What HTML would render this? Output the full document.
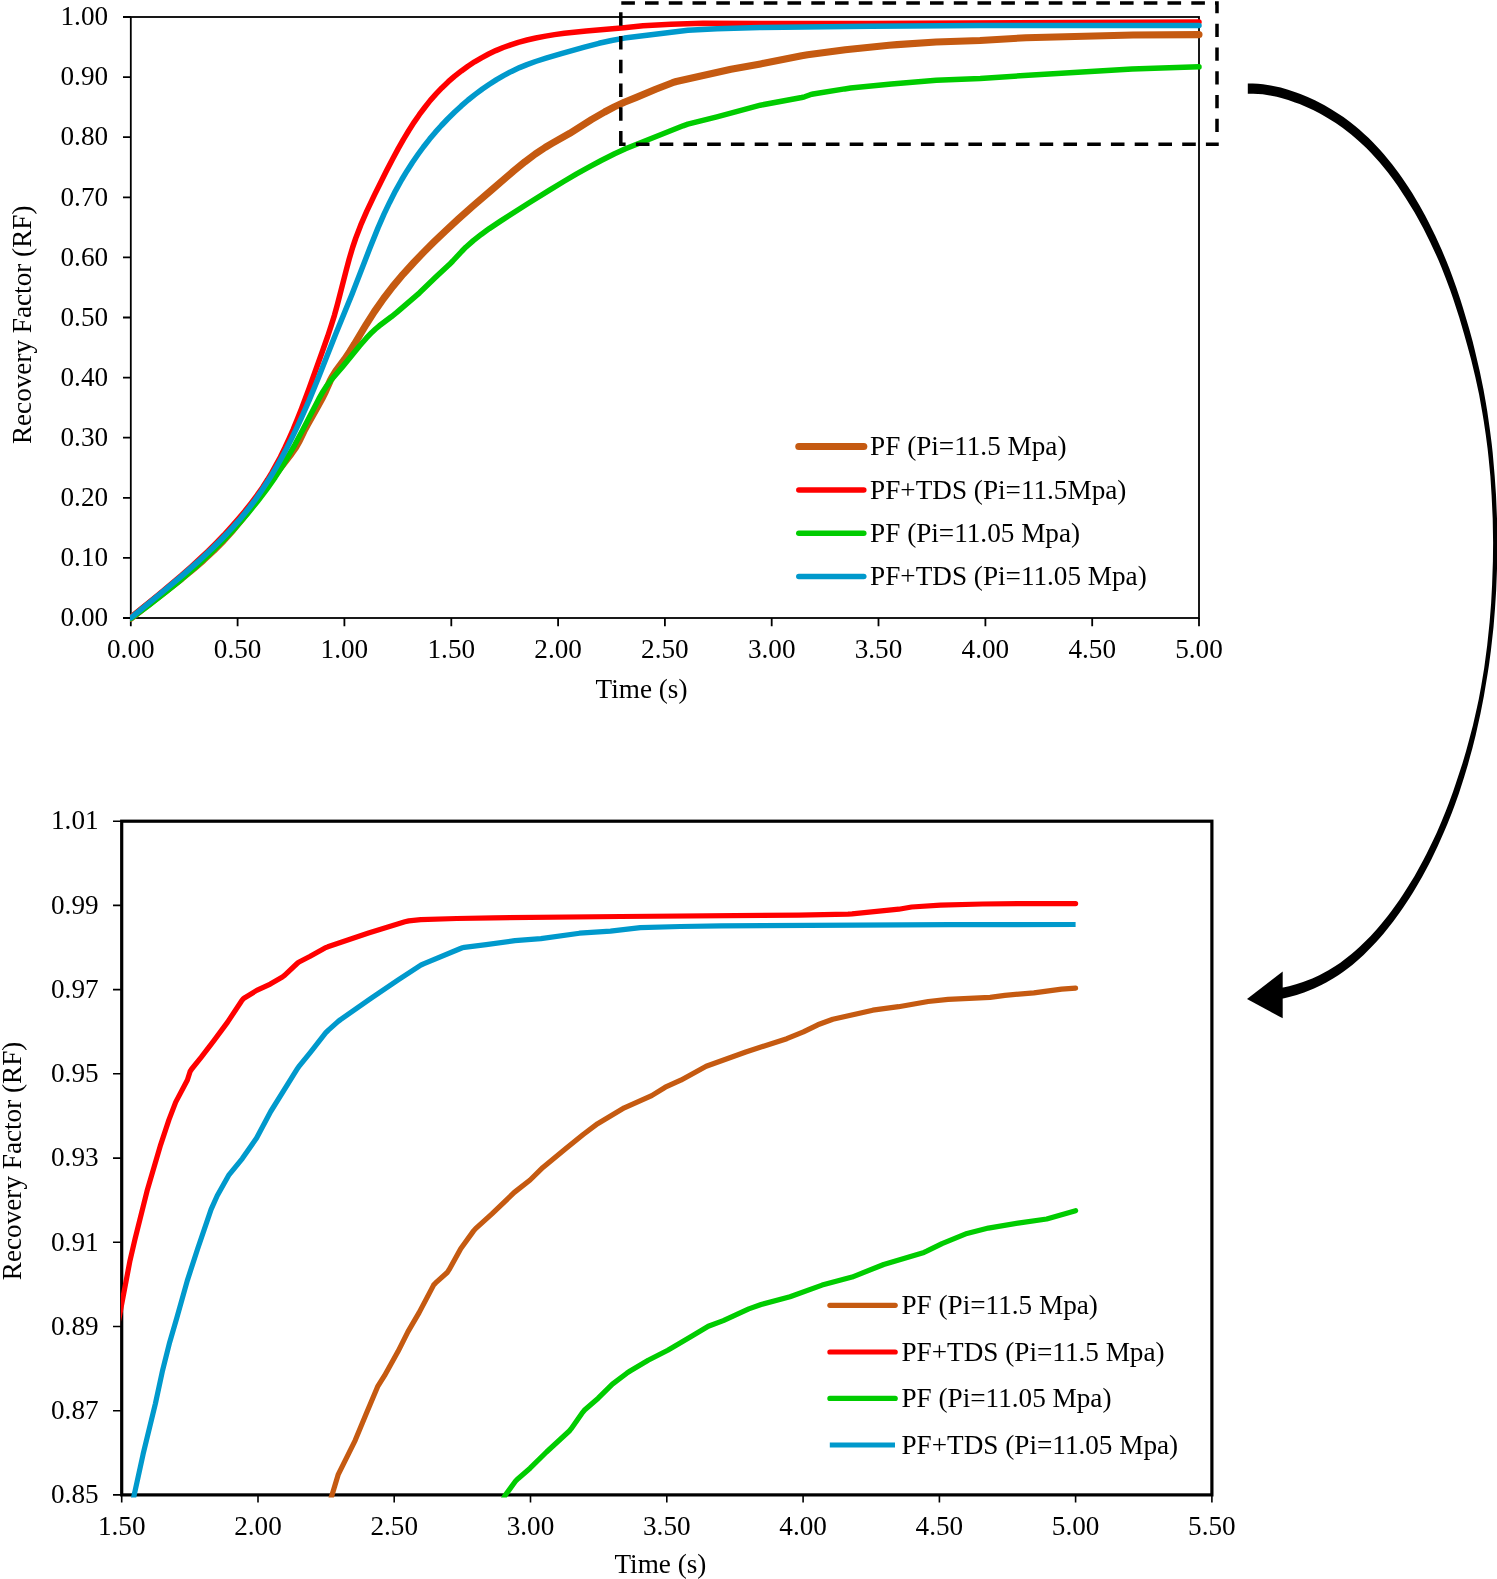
<!DOCTYPE html><html><head><meta charset="utf-8"><style>html,body{margin:0;padding:0;background:#fff;overflow:hidden;}svg{display:block;will-change:transform;}text{font-family:"Liberation Serif",serif;font-size:27.2px;fill:#000;}</style></head><body>
<svg width="1497" height="1579" viewBox="0 0 1497 1579">
<defs><clipPath id="ct"><rect x="129.9" y="0" width="1080" height="640"/></clipPath><clipPath id="cb"><rect x="120.9" y="819.6" width="1092.6" height="677.9"/></clipPath></defs>
<rect x="130.8" y="17.0" width="1068.2" height="601.0" fill="none" stroke="#000" stroke-width="1.8"/>
<path d="M123,17.0H130.8M130.8,618.0V626.2M123,77.1H130.8M237.6,618.0V626.2M123,137.2H130.8M344.4,618.0V626.2M123,197.3H130.8M451.3,618.0V626.2M123,257.4H130.8M558.1,618.0V626.2M123,317.5H130.8M664.9,618.0V626.2M123,377.6H130.8M771.7,618.0V626.2M123,437.7H130.8M878.5,618.0V626.2M123,497.8H130.8M985.4,618.0V626.2M123,557.9H130.8M1092.2,618.0V626.2M123,618.0H130.8M1199.0,618.0V626.2" stroke="#000" stroke-width="1.8" fill="none"/>
<text x="108.1" y="25.2" text-anchor="end">1.00</text>
<text x="130.8" y="657.9" text-anchor="middle">0.00</text>
<text x="108.1" y="85.3" text-anchor="end">0.90</text>
<text x="237.6" y="657.9" text-anchor="middle">0.50</text>
<text x="108.1" y="145.4" text-anchor="end">0.80</text>
<text x="344.4" y="657.9" text-anchor="middle">1.00</text>
<text x="108.1" y="205.5" text-anchor="end">0.70</text>
<text x="451.3" y="657.9" text-anchor="middle">1.50</text>
<text x="108.1" y="265.6" text-anchor="end">0.60</text>
<text x="558.1" y="657.9" text-anchor="middle">2.00</text>
<text x="108.1" y="325.7" text-anchor="end">0.50</text>
<text x="664.9" y="657.9" text-anchor="middle">2.50</text>
<text x="108.1" y="385.8" text-anchor="end">0.40</text>
<text x="771.7" y="657.9" text-anchor="middle">3.00</text>
<text x="108.1" y="445.9" text-anchor="end">0.30</text>
<text x="878.5" y="657.9" text-anchor="middle">3.50</text>
<text x="108.1" y="506.0" text-anchor="end">0.20</text>
<text x="985.4" y="657.9" text-anchor="middle">4.00</text>
<text x="108.1" y="566.1" text-anchor="end">0.10</text>
<text x="1092.2" y="657.9" text-anchor="middle">4.50</text>
<text x="108.1" y="626.2" text-anchor="end">0.00</text>
<text x="1199.0" y="657.9" text-anchor="middle">5.00</text>
<text x="641.5" y="698.2" text-anchor="middle">Time (s)</text>
<text transform="translate(31.2,324.8) rotate(-90)" text-anchor="middle">Recovery Factor (RF)</text>
<g clip-path="url(#ct)">
<polyline points="130.8,618.2 144.1,607.6 182.0,578.1 193.6,568.5 203.4,560.0 213.6,550.5 223.5,540.5 232.8,530.1 243.0,517.7 255.1,501.8 278.9,469.6 291.1,453.8 295.7,447.2 299.2,441.1 303.9,431.2 307.2,425.0 318.0,405.8 321.8,398.8 325.4,391.6 330.2,380.7 332.1,377.1 335.8,371.2 344.7,359.1 349.7,351.6 354.5,344.0 366.3,324.3 374.4,311.6 383.6,298.5 392.7,286.6 403.0,274.3 413.8,262.5 423.5,252.4 434.1,241.8 445.7,230.7 458.2,219.2 473.1,205.9 491.3,190.2 513.3,171.3 524.9,161.8 535.3,154.0 545.3,147.4 552.2,143.3 569.6,133.4 591.6,119.5 604.6,112.0 614.3,106.9 624.3,102.2 636.4,97.4 655.7,89.3 672.5,82.7 676.3,81.5 731.0,69.2 760.5,63.9 801.7,55.7 807.6,54.7 845.3,49.7 889.1,45.2 897.1,44.6 936.0,42.0 980.0,40.5 1026.0,37.7 1133.0,35.0 1199.0,34.6" fill="none" stroke="#C55A11" stroke-width="7.1" stroke-linejoin="round" stroke-linecap="round"/>
<polyline points="130.8,617.3 159.5,593.9 180.9,575.8 190.6,567.2 199.5,559.1 208.2,550.9 216.0,543.1 223.7,535.3 231.1,527.2 238.4,518.9 244.8,511.3 251.0,503.4 257.0,495.4 262.7,487.2 267.6,479.6 271.7,472.8 276.1,464.9 280.4,457.0 284.8,448.0 289.0,438.9 293.0,429.8 297.2,419.6 301.6,408.5 309.0,388.8 322.8,350.2 327.8,336.0 331.5,324.6 334.5,315.1 337.4,304.5 346.1,270.6 349.2,259.0 352.6,247.5 355.8,238.0 360.8,224.9 366.8,211.2 374.5,194.9 386.5,170.7 392.5,159.2 398.2,148.6 403.6,139.1 408.8,130.5 414.2,122.1 419.3,114.7 424.7,107.5 430.3,100.4 436.3,93.7 441.8,87.9 448.3,81.7 454.4,76.4 461.4,70.9 467.9,66.2 474.6,61.8 481.5,57.8 488.6,54.0 495.8,50.6 503.2,47.5 510.7,44.8 518.3,42.3 527.0,40.0 535.8,38.0 545.6,36.1 554.5,34.6 564.4,33.2 586.3,30.9 624.1,27.7 643.0,25.8 671.0,24.2 703.0,23.2 761.0,23.6 869.0,23.4 1199.0,22.0" fill="none" stroke="#FF0000" stroke-width="5.5" stroke-linejoin="round" stroke-linecap="round"/>
<polyline points="130.8,618.6 148.5,605.6 165.1,592.7 180.6,580.0 195.7,566.9 209.6,554.0 223.1,540.6 235.5,527.5 247.3,513.9 257.4,501.5 266.5,489.6 275.1,477.3 282.7,465.5 288.9,455.2 294.8,444.8 302.8,429.8 318.9,398.7 322.9,391.7 326.1,386.7 330.9,380.3 342.6,366.6 359.7,345.7 366.3,338.2 371.8,332.4 375.5,329.0 379.3,325.8 391.3,316.8 396.8,312.4 419.5,292.8 436.1,276.8 449.3,264.6 452.8,261.0 461.6,251.5 465.8,247.2 473.3,240.6 481.2,234.4 489.3,228.6 500.1,221.4 528.8,203.0 549.1,190.3 563.7,181.5 576.6,173.9 588.8,167.1 601.2,160.5 614.6,153.8 625.5,148.8 683.1,125.8 687.8,124.2 716.9,116.8 760.4,105.2 801.7,97.5 804.6,96.8 810.2,94.7 813.1,94.0 844.7,88.9 850.6,88.1 891.4,84.0 936.3,80.2 980.3,78.4 1028.2,75.2 1132.0,68.9 1199.0,66.8" fill="none" stroke="#00CC00" stroke-width="5.5" stroke-linejoin="round" stroke-linecap="round"/>
<polyline points="130.8,617.9 164.1,590.7 181.8,575.9 198.3,561.4 212.9,547.8 220.0,540.7 227.0,533.5 233.1,526.9 239.1,520.2 244.8,513.3 249.8,507.0 255.2,499.8 260.4,492.4 265.9,484.1 271.3,475.7 276.4,467.1 281.3,458.4 286.5,448.7 291.5,438.8 296.3,428.9 301.3,418.1 309.0,400.6 317.4,380.3 335.8,333.8 352.1,294.0 369.8,248.3 378.0,227.9 384.0,214.1 389.6,202.4 395.5,190.8 401.8,179.5 407.0,170.9 412.4,162.5 418.1,154.3 423.4,147.0 429.6,139.1 435.4,132.2 441.4,125.5 447.6,119.0 454.7,112.0 461.3,105.9 468.1,100.0 475.2,94.4 482.4,89.0 489.0,84.5 496.6,79.6 503.5,75.6 511.5,71.4 519.6,67.6 527.0,64.6 535.5,61.5 546.0,58.2 561.3,53.6 584.4,47.1 598.9,43.3 611.6,40.5 624.4,38.1 687.9,30.2 716.9,28.8 759.9,27.6 870.9,26.3 980.9,25.4 1199.0,25.4" fill="none" stroke="#0099CC" stroke-width="5.5" stroke-linejoin="round" stroke-linecap="round"/>
</g>
<line x1="798.8" y1="446.5" x2="863.8" y2="446.5" stroke="#C55A11" stroke-width="7.1" stroke-linecap="round"/>
<text x="870.1" y="455.1">PF (Pi=11.5 Mpa)</text>
<line x1="798.8" y1="490.0" x2="863.8" y2="490.0" stroke="#FF0000" stroke-width="5.5" stroke-linecap="round"/>
<text x="870.1" y="498.6">PF+TDS (Pi=11.5Mpa)</text>
<line x1="798.8" y1="533.2" x2="863.8" y2="533.2" stroke="#00CC00" stroke-width="5.5" stroke-linecap="round"/>
<text x="870.1" y="541.8">PF (Pi=11.05 Mpa)</text>
<line x1="798.8" y1="576.6" x2="863.8" y2="576.6" stroke="#0099CC" stroke-width="5.5" stroke-linecap="round"/>
<text x="870.1" y="585.2">PF+TDS (Pi=11.05 Mpa)</text>
<path d="M621.3,2.9H634.9M645.0,2.9H658.6M668.8,2.9H682.4M692.5,2.9H706.1M716.3,2.9H729.9M740.0,2.9H753.6M763.8,2.9H777.4M787.5,2.9H801.1M811.3,2.9H824.9M835.0,2.9H848.6M858.8,2.9H872.4M882.5,2.9H896.1M906.3,2.9H919.9M930.0,2.9H943.6M953.8,2.9H967.4M977.5,2.9H991.1M1001.3,2.9H1014.9M1025.0,2.9H1038.6M1048.8,2.9H1062.4M1072.5,2.9H1086.1M1096.3,2.9H1109.9M1120.0,2.9H1133.6M1143.8,2.9H1157.4M1167.5,2.9H1181.1M1191.3,2.9H1204.9M1215,2.9H1217V13.2M1217,23.8V37.0M1217,47.5V60.8M1217,71.3V84.5M1217,95.0V108.2M1217,118.8V132.0M1217,142.5V144.3H1205.9M1195.8,144.3H1182.2M1172.0,144.3H1158.4M1148.2,144.3H1134.7M1124.5,144.3H1110.9M1100.8,144.3H1087.2M1077.0,144.3H1063.4M1053.2,144.3H1039.7M1029.5,144.3H1015.9M1005.8,144.3H992.2M982.0,144.3H968.4M958.3,144.3H944.7M934.5,144.3H920.9M910.8,144.3H897.2M887.0,144.3H873.4M863.3,144.3H849.7M839.5,144.3H825.9M815.8,144.3H802.2M792.0,144.3H778.4M768.3,144.3H754.7M744.5,144.3H730.9M720.8,144.3H707.2M697.0,144.3H683.4M673.3,144.3H659.7M649.5,144.3H635.9M625.6,144.3H620.8V131M620.8,120.8V107.2M620.8,97.0V83.5M620.8,73.3V59.7M620.8,49.6V36.0M620.8,25.8V12.2" stroke="#000" stroke-width="3.5" fill="none" stroke-linejoin="miter"/>
<polygon points="1247.8,83.4 1252.7,83.4 1257.9,83.7 1263.0,84.2 1270.7,85.4 1280.7,87.6 1288.1,89.8 1295.5,92.2 1300.4,94.0 1307.7,96.9 1314.9,100.3 1319.7,102.7 1324.5,105.2 1331.6,109.4 1338.7,113.9 1343.4,117.1 1350.4,122.3 1355.1,126.0 1359.6,129.8 1364.2,133.9 1368.7,138.1 1373.1,142.5 1379.7,149.5 1383.9,154.3 1392.3,164.6 1398.5,172.7 1402.4,178.3 1408.3,187.1 1412.2,193.1 1419.6,205.5 1425.0,215.3 1428.5,222.0 1435.3,235.7 1441.8,250.0 1446.4,261.1 1449.4,268.6 1452.3,276.3 1456.5,288.0 1460.5,299.9 1463.0,308.0 1469.1,328.5 1472.6,341.2 1474.7,349.7 1479.8,371.4 1483.4,389.1 1485.8,402.5 1487.3,411.6 1489.9,429.8 1491.7,443.7 1492.7,452.9 1494.7,476.3 1496.0,495.1 1497.0,518.7 1497.4,542.4 1497.1,566.1 1496.2,589.7 1495.0,608.5 1493.5,627.2 1490.9,650.4 1489.1,664.2 1487.7,673.3 1483.9,695.9 1480.5,713.6 1475.6,735.4 1472.4,748.2 1470.1,756.6 1467.8,765.0 1464.1,777.3 1458.9,793.4 1454.7,805.2 1451.8,812.9 1447.3,824.2 1444.2,831.6 1437.8,846.1 1431.1,860.0 1427.6,866.8 1422.2,876.7 1416.7,886.2 1413.0,892.4 1409.2,898.5 1403.4,907.3 1399.4,913.0 1393.4,921.2 1387.3,929.1 1383.1,934.2 1376.7,941.5 1372.4,946.1 1363.6,954.9 1356.9,961.0 1352.3,964.9 1347.7,968.5 1343.0,972.0 1338.3,975.2 1333.5,978.2 1326.2,982.4 1321.4,985.0 1314.0,988.4 1309.1,990.5 1304.1,992.4 1296.7,994.9 1289.2,997.1 1284.2,998.2 1279.1,999.2 1274.1,999.9 1272.8,989.0 1277.4,988.4 1284.4,987.2 1289.0,986.2 1296.0,984.3 1303.0,982.0 1307.6,980.3 1312.3,978.4 1319.3,975.2 1323.9,972.8 1328.5,970.2 1335.4,966.0 1340.0,962.9 1344.5,959.6 1351.2,954.3 1355.6,950.6 1360.0,946.6 1366.4,940.3 1370.7,935.9 1377.0,929.0 1381.2,924.1 1387.3,916.5 1391.3,911.3 1399.2,900.3 1403.0,894.5 1408.7,885.6 1414.3,876.4 1417.9,870.0 1423.2,860.3 1426.7,853.6 1433.4,839.8 1436.7,832.7 1441.4,821.8 1446.0,810.6 1448.9,803.0 1453.1,791.4 1455.8,783.5 1462.4,763.4 1466.1,751.0 1468.4,742.6 1472.9,725.6 1476.8,708.3 1478.7,699.5 1481.2,686.1 1484.2,668.1 1487.2,645.3 1489.6,622.2 1491.1,603.5 1492.1,584.8 1492.9,561.3 1493.1,542.4 1492.7,518.8 1491.6,495.3 1490.4,476.6 1488.6,458.1 1487.6,448.8 1485.8,435.1 1483.8,421.4 1482.3,412.4 1479.1,394.5 1475.3,376.9 1471.1,359.6 1467.7,346.9 1464.2,334.4 1459.4,318.0 1452.9,298.0 1450.2,290.2 1445.9,278.7 1441.5,267.4 1438.4,260.1 1435.2,252.9 1430.3,242.4 1423.5,228.8 1418.2,219.0 1414.6,212.6 1410.9,206.4 1405.3,197.4 1397.6,185.8 1393.7,180.3 1387.7,172.3 1379.5,162.3 1371.1,153.0 1366.8,148.6 1362.5,144.4 1358.1,140.4 1351.5,134.7 1347.0,131.2 1342.5,127.8 1335.7,123.1 1331.2,120.2 1326.7,117.4 1319.9,113.6 1313.1,110.1 1306.4,106.9 1299.6,104.1 1295.0,102.4 1288.2,100.1 1281.3,98.0 1276.7,96.8 1269.8,95.4 1262.7,94.3 1258.0,94.0 1253.2,93.8 1247.8,93.8" fill="#000"/>
<polygon points="1247,999 1282.7,971.4 1282.7,1018.3" fill="#000"/>
<path d="M113,821.2H121.7M121.7,1494.9V1502.6M113,905.4H121.7M258.0,1494.9V1502.6M113,989.6H121.7M394.2,1494.9V1502.6M113,1073.8H121.7M530.5,1494.9V1502.6M113,1158.1H121.7M666.8,1494.9V1502.6M113,1242.3H121.7M803.1,1494.9V1502.6M113,1326.5H121.7M939.4,1494.9V1502.6M113,1410.7H121.7M1075.6,1494.9V1502.6M113,1494.9H121.7M1211.9,1494.9V1502.6" stroke="#000" stroke-width="1.6" fill="none"/>
<text x="98.6" y="829.4" text-anchor="end">1.01</text>
<text x="121.7" y="1535.2" text-anchor="middle">1.50</text>
<text x="98.6" y="913.6" text-anchor="end">0.99</text>
<text x="258.0" y="1535.2" text-anchor="middle">2.00</text>
<text x="98.6" y="997.8" text-anchor="end">0.97</text>
<text x="394.2" y="1535.2" text-anchor="middle">2.50</text>
<text x="98.6" y="1082.0" text-anchor="end">0.95</text>
<text x="530.5" y="1535.2" text-anchor="middle">3.00</text>
<text x="98.6" y="1166.3" text-anchor="end">0.93</text>
<text x="666.8" y="1535.2" text-anchor="middle">3.50</text>
<text x="98.6" y="1250.5" text-anchor="end">0.91</text>
<text x="803.1" y="1535.2" text-anchor="middle">4.00</text>
<text x="98.6" y="1334.7" text-anchor="end">0.89</text>
<text x="939.4" y="1535.2" text-anchor="middle">4.50</text>
<text x="98.6" y="1418.9" text-anchor="end">0.87</text>
<text x="1075.6" y="1535.2" text-anchor="middle">5.00</text>
<text x="98.6" y="1503.1" text-anchor="end">0.85</text>
<text x="1211.9" y="1535.2" text-anchor="middle">5.50</text>
<text x="660.4" y="1573" text-anchor="middle">Time (s)</text>
<text transform="translate(20.6,1160.9) rotate(-90)" text-anchor="middle">Recovery Factor (RF)</text>
<rect x="121.7" y="821.2" width="1090.2" height="673.7" fill="none" stroke="#000" stroke-width="3.2"/>
<g clip-path="url(#cb)">
<polyline points="329.0,1505.0 338.3,1474.3 355.2,1440.3 365.9,1414.4 377.6,1386.7 384.5,1375.7 398.1,1351.3 408.0,1331.6 419.1,1312.6 433.6,1285.1 435.6,1282.9 447.5,1272.2 449.1,1269.7 460.7,1248.7 473.6,1230.9 475.6,1228.6 491.9,1213.9 514.3,1192.4 530.1,1180.0 542.9,1167.4 566.8,1147.7 583.2,1134.5 597.6,1123.7 624.3,1107.8 651.7,1095.6 665.3,1087.2 680.8,1080.2 706.2,1066.2 745.8,1052.0 786.8,1038.7 803.4,1031.9 817.8,1024.8 832.8,1019.3 872.8,1010.2 898.6,1006.7 928.2,1001.5 948.1,999.3 990.1,997.3 1004.9,995.3 1033.9,992.9 1061.6,989.1 1075.6,988.1" fill="none" stroke="#C55A11" stroke-width="5.2" stroke-linejoin="round" stroke-linecap="round"/>
<polyline points="112.0,1355.0 130.0,1260.6 135.0,1239.2 147.4,1189.7 160.7,1144.6 168.9,1119.9 175.7,1102.1 187.4,1080.0 190.1,1071.5 191.7,1069.0 201.1,1057.3 213.9,1040.6 227.6,1022.1 241.4,1001.2 243.2,998.9 244.8,997.7 256.7,990.4 270.3,984.1 282.4,977.0 284.8,975.2 297.1,963.5 298.6,962.2 310.2,956.3 325.0,947.9 327.8,946.8 368.5,933.0 404.9,921.8 408.8,920.9 420.7,919.7 456.7,918.5 493.7,917.8 620.8,916.5 798.9,915.1 848.0,914.1 852.0,913.9 898.8,909.2 911.6,907.0 940.5,905.1 982.5,904.0 1020.6,903.6 1075.6,903.6" fill="none" stroke="#FF0000" stroke-width="5.2" stroke-linejoin="round" stroke-linecap="round"/>
<polyline points="500.0,1505.0 505.2,1495.3 515.8,1480.8 518.0,1478.7 530.1,1468.2 546.5,1452.0 569.3,1431.0 571.2,1428.7 582.7,1412.3 584.6,1410.0 598.2,1398.2 612.4,1384.1 626.8,1373.2 630.1,1371.0 648.2,1360.2 667.8,1350.2 690.3,1337.1 708.3,1326.2 723.3,1320.6 748.8,1308.9 761.1,1304.5 790.0,1296.7 822.1,1285.1 852.1,1277.1 883.7,1264.5 924.0,1252.4 926.7,1251.2 942.0,1243.6 967.0,1233.4 988.4,1228.1 1018.0,1223.1 1046.7,1219.0 1075.6,1210.7" fill="none" stroke="#00CC00" stroke-width="5.2" stroke-linejoin="round" stroke-linecap="round"/>
<polyline points="132.0,1505.0 143.1,1454.2 155.4,1403.6 162.6,1370.3 169.7,1342.2 176.7,1318.2 187.3,1280.6 197.5,1249.2 211.1,1209.4 217.2,1195.7 229.0,1174.8 242.3,1158.6 256.6,1138.0 270.7,1111.5 297.7,1068.2 299.4,1065.8 310.8,1051.8 325.6,1032.9 328.4,1030.1 338.2,1021.4 340.5,1019.6 370.9,998.4 398.2,979.9 420.8,965.1 423.5,963.8 460.5,948.5 462.4,947.8 464.3,947.4 486.2,944.7 514.9,940.6 540.9,938.6 579.5,933.2 610.5,931.1 640.3,927.7 680.3,926.5 721.3,925.9 949.5,924.7 1075.6,924.5" fill="none" stroke="#0099CC" stroke-width="5.2" stroke-linejoin="round" stroke-linecap="butt"/>
</g>
<line x1="829.9" y1="1305.3" x2="895.2" y2="1305.3" stroke="#C55A11" stroke-width="5.2" stroke-linecap="round"/>
<text x="901.5" y="1314.0">PF (Pi=11.5 Mpa)</text>
<line x1="829.9" y1="1352.0" x2="895.2" y2="1352.0" stroke="#FF0000" stroke-width="5.2" stroke-linecap="round"/>
<text x="901.5" y="1360.7">PF+TDS (Pi=11.5 Mpa)</text>
<line x1="829.9" y1="1398.4" x2="895.2" y2="1398.4" stroke="#00CC00" stroke-width="5.2" stroke-linecap="round"/>
<text x="901.5" y="1407.1">PF (Pi=11.05 Mpa)</text>
<line x1="829.8" y1="1445.0" x2="895.0" y2="1445.0" stroke="#0099CC" stroke-width="5.2" stroke-linecap="butt"/>
<text x="901.5" y="1453.7">PF+TDS (Pi=11.05 Mpa)</text>
</svg></body></html>
